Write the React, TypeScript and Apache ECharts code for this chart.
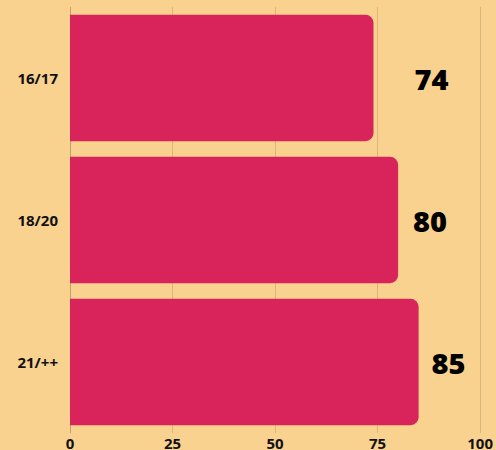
import React, { useEffect, useRef } from "react";
import * as echarts from "echarts";

const categories = ["16/17", "18/20", "21/++"];
const values = [74, 80, 85];
const labelDistances = [41, 15, 13];
const xTicks = { min: 0, max: 100, interval: 25 };

export default function App() {
  const ref = useRef<HTMLDivElement>(null);
  useEffect(() => {
    document.body.style.margin = "0";
    document.documentElement.style.overflow = "hidden";
    const chart = echarts.init(ref.current!, null, { renderer: "svg", width: 496, height: 450 });
    chart.setOption({
      animation: false,
      backgroundColor: "#f9d28f",
      grid: { left: 70, right: 13, top: 7, bottom: 13, containLabel: false },
      xAxis: {
        type: "value",
        min: xTicks.min,
        max: xTicks.max,
        interval: xTicks.interval,
        axisLine: { show: false },
        axisTick: { show: false },
        splitLine: { show: true, lineStyle: { color: "rgba(0,0,0,0.13)", width: 1 } },
        axisLabel: {
          color: "#111",
          fontFamily: "Noto Sans",
          fontWeight: "bold",
          fontSize: 15,
          margin: 2,
        },
      },
      yAxis: {
        type: "category",
        data: categories,
        inverse: true,
        axisLine: { show: true, lineStyle: { color: "rgba(0,0,0,0.1)" } },
        axisTick: { show: false },
        axisLabel: {
          color: "#111",
          fontFamily: "Noto Sans",
          fontWeight: "bold",
          fontSize: 15,
          margin: 12,
        },
      },
      series: [
        {
          type: "bar",
          barCategoryGap: "11%",
          data: values.map((v, i) => ({
            value: v,
            label: { distance: labelDistances[i] },
          })),
          itemStyle: { color: "#d8245a", borderRadius: [0, 8, 8, 0] },
          label: {
            show: true,
            position: "right",
            color: "#000",
            fontFamily: "Noto Sans",
            fontWeight: 900,
            fontSize: 29,
          },
        },
      ],
    });
    return () => chart.dispose();
  }, []);
  return (
    <div
      ref={ref}
      style={{ position: "fixed", left: 0, top: 0, width: 496, height: 450 }}
    />
  );
}
